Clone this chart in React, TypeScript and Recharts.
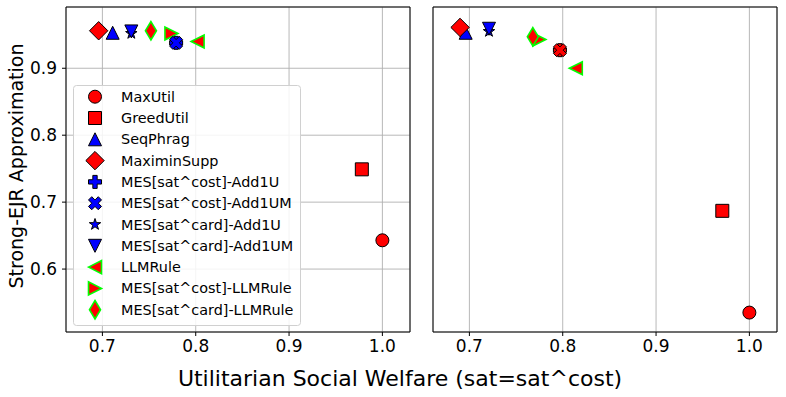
import { ScatterChart, Scatter, XAxis, YAxis, CartesianGrid, ReferenceArea } from "recharts";

// rules, in legend order
const methods = [
  "MaxUtil",
  "GreedUtil",
  "SeqPhrag",
  "MaximinSupp",
  "MES[sat^cost]-Add1U",
  "MES[sat^cost]-Add1UM",
  "MES[sat^card]-Add1U",
  "MES[sat^card]-Add1UM",
  "LLMRule",
  "MES[sat^cost]-LLMRule",
  "MES[sat^card]-LLMRule",
];

// left panel
const leftWelfare = [1.0, 0.978, 0.711, 0.696, 0.779, 0.779, 0.731, 0.731, 0.802, 0.774, 0.752];
const leftEjr = [0.643, 0.749, 0.953, 0.956, 0.938, 0.938, 0.952, 0.955, 0.94, 0.952, 0.956];

// right panel
const rightWelfare = [1.0, 0.971, 0.696, 0.69, 0.797, 0.797, 0.721, 0.721, 0.814, 0.775, 0.768];
const rightEjr = [0.535, 0.687, 0.953, 0.961, 0.927, 0.927, 0.955, 0.959, 0.9, 0.943, 0.947];

const xTicks = [0.7, 0.8, 0.9, 1.0];
const yTicks = [0.6, 0.7, 0.8, 0.9];

const X_DOMAIN: [number, number] = [0.661, 1.0296];
const Y_DOMAIN: [number, number] = [0.506, 0.9915];

const RED = "#ff0000";
const BLUE = "#0000ff";
const LIME = "#00ff00";
const FONT = "'DejaVu Sans', sans-serif";

type Look = { kind: string; fill: string; edge: string; ms: number };

const looks: Look[] = [
  { kind: "o", fill: RED, edge: "#000", ms: 13 },
  { kind: "s", fill: RED, edge: "#000", ms: 13 },
  { kind: "^", fill: BLUE, edge: "#000", ms: 13 },
  { kind: "D", fill: RED, edge: "#000", ms: 13 },
  { kind: "P", fill: BLUE, edge: "#000", ms: 13 },
  { kind: "X", fill: BLUE, edge: "#000", ms: 13 },
  { kind: "*", fill: BLUE, edge: "#000", ms: 12 },
  { kind: "v", fill: BLUE, edge: "#000", ms: 13 },
  { kind: "<", fill: RED, edge: LIME, ms: 13 },
  { kind: ">", fill: RED, edge: LIME, ms: 13 },
  { kind: "d", fill: RED, edge: LIME, ms: 13 },
];

// in the right panel the sat^cost Add1U / Add1UM markers come out red
const rightLooks: Look[] = looks.map((l, i) => (i === 4 || i === 5 ? { ...l, fill: RED } : l));

// which series end up on top of which
const drawOrder = [0, 1, 8, 9, 10, 2, 3, 4, 5, 6, 7];

function poly(pts: number[][]) {
  return "M" + pts.map((p) => p[0].toFixed(2) + "," + p[1].toFixed(2)).join("L") + "Z";
}

function markerPath(kind: string, ms: number) {
  const h = ms / 2;
  const d = h * Math.SQRT2;
  switch (kind) {
    case "s":
      return poly([[-h, -h], [h, -h], [h, h], [-h, h]]);
    case "^":
      return poly([[0, -h], [-h, h], [h, h]]);
    case "v":
      return poly([[0, h], [-h, -h], [h, -h]]);
    case "<":
      return poly([[-h, 0], [h, -h], [h, h]]);
    case ">":
      return poly([[h, 0], [-h, -h], [-h, h]]);
    case "D":
      return poly([[0, -d], [d, 0], [0, d], [-d, 0]]);
    case "d":
      return poly([[0, -d], [0.6 * d, 0], [0, d], [-0.6 * d, 0]]);
    case "P": {
      const u = ms / 6;
      const p = [[-1, -3], [-1, -1], [-3, -1], [-3, 1], [-1, 1], [-1, 3], [1, 3], [1, 1], [3, 1], [3, -1], [1, -1], [1, -3]];
      return poly(p.map(([a, b]) => [a * u, b * u]));
    }
    case "X": {
      const u = ms / 4;
      const p = [[-1, -2], [0, -1], [1, -2], [2, -1], [1, 0], [2, 1], [1, 2], [0, 1], [-1, 2], [-2, 1], [-1, 0], [-2, -1]];
      return poly(p.map(([a, b]) => [a * u, b * u]));
    }
    case "*": {
      const pts: number[][] = [];
      for (let k = 0; k < 10; k++) {
        const r = k % 2 === 0 ? h : h * 0.381966;
        const a = -Math.PI / 2 + (k * Math.PI) / 5;
        pts.push([r * Math.cos(a), r * Math.sin(a)]);
      }
      return poly(pts);
    }
    default:
      return "";
  }
}

function Marker({ cx, cy, look }: { cx: number; cy: number; look: Look }) {
  const sw = look.edge === LIME ? 1.6 : 1;
  if (look.kind === "o") {
    return <circle cx={cx} cy={cy} r={look.ms / 2} fill={look.fill} stroke={look.edge} strokeWidth={sw} />;
  }
  return (
    <path
      d={markerPath(look.kind, look.ms)}
      transform={`translate(${cx},${cy})`}
      fill={look.fill}
      stroke={look.edge}
      strokeWidth={sw}
      strokeLinejoin="miter"
    />
  );
}

function Panel({
  welfare,
  ejr,
  panelLooks,
  width,
  marginRight,
  yAxisWidth,
  showYLabels,
}: {
  welfare: number[];
  ejr: number[];
  panelLooks: Look[];
  width: number;
  marginRight: number;
  yAxisWidth: number;
  showYLabels: boolean;
}) {
  const tickStyle = { fontSize: 17, fill: "#000", fontFamily: FONT };
  return (
    <ScatterChart width={width} height={397} margin={{ top: 7, right: marginRight, bottom: 35, left: 0 }}>
      <CartesianGrid stroke="#b0b0b0" strokeWidth={0.9} />
      <XAxis
        type="number"
        dataKey="x"
        domain={X_DOMAIN}
        ticks={xTicks}
        allowDataOverflow
        height={30}
        axisLine={false}
        tickSize={4}
        tickMargin={4}
        tickLine={{ stroke: "#000" }}
        tick={tickStyle}
        tickFormatter={(v: number) => v.toFixed(1)}
      />
      <YAxis
        type="number"
        dataKey="y"
        domain={Y_DOMAIN}
        ticks={yTicks}
        allowDataOverflow
        width={yAxisWidth}
        axisLine={false}
        tickSize={4}
        tickMargin={5}
        tickLine={{ stroke: "#000" }}
        tick={showYLabels ? tickStyle : false}
        tickFormatter={(v: number) => v.toFixed(1)}
      />
      {drawOrder.map((i) => (
        <Scatter
          key={methods[i]}
          name={methods[i]}
          data={[{ x: welfare[i], y: ejr[i] }]}
          isAnimationActive={false}
          shape={(p: any) => <Marker cx={p.cx} cy={p.cy} look={panelLooks[i]} />}
        />
      ))}
      <ReferenceArea
        x1={X_DOMAIN[0]}
        x2={X_DOMAIN[1]}
        y1={Y_DOMAIN[0]}
        y2={Y_DOMAIN[1]}
        fill="none"
        fillOpacity={0}
        stroke="#000"
        strokeWidth={1}
        ifOverflow="visible"
      />
    </ScatterChart>
  );
}

export default function App() {
  return (
    <div style={{ position: "absolute", left: 0, top: 0, width: 786, height: 397, background: "#fff", fontFamily: FONT }}>
      <div style={{ position: "absolute", left: 0, top: 0 }}>
        <Panel welfare={leftWelfare} ejr={leftEjr} panelLooks={looks} width={420} marginRight={10} yAxisWidth={66} showYLabels />
      </div>
      <div style={{ position: "absolute", left: 420, top: 0 }}>
        <Panel welfare={rightWelfare} ejr={rightEjr} panelLooks={rightLooks} width={366} marginRight={9} yAxisWidth={13} showYLabels={false} />
      </div>
      <svg width={786} height={397} style={{ position: "absolute", left: 0, top: 0, pointerEvents: "none" }}>
        <rect x={73.5} y={85.5} width={227} height={240} rx={3} fill="#fff" fillOpacity={0.85} stroke="#d0d0d0" />
        {methods.map((m, i) => {
          const y = 96.7 + i * 21.3;
          return (
            <g key={m}>
              <Marker cx={95} cy={y} look={looks[i]} />
              <text x={121} y={y} dominantBaseline="central" fontSize={14.4} fontFamily={FONT} fill="#000">
                {m}
              </text>
            </g>
          );
        })}
        <text
          x={16}
          y={166}
          transform="rotate(-90 16 166)"
          textAnchor="middle"
          dominantBaseline="central"
          fontSize={19}
          fontFamily={FONT}
          fill="#000"
        >
          Strong-EJR Approximation
        </text>
        <text x={400} y={378} textAnchor="middle" dominantBaseline="central" fontSize={22} fontFamily={FONT} fill="#000">
          Utilitarian Social Welfare (sat=sat^cost)
        </text>
      </svg>
    </div>
  );
}
